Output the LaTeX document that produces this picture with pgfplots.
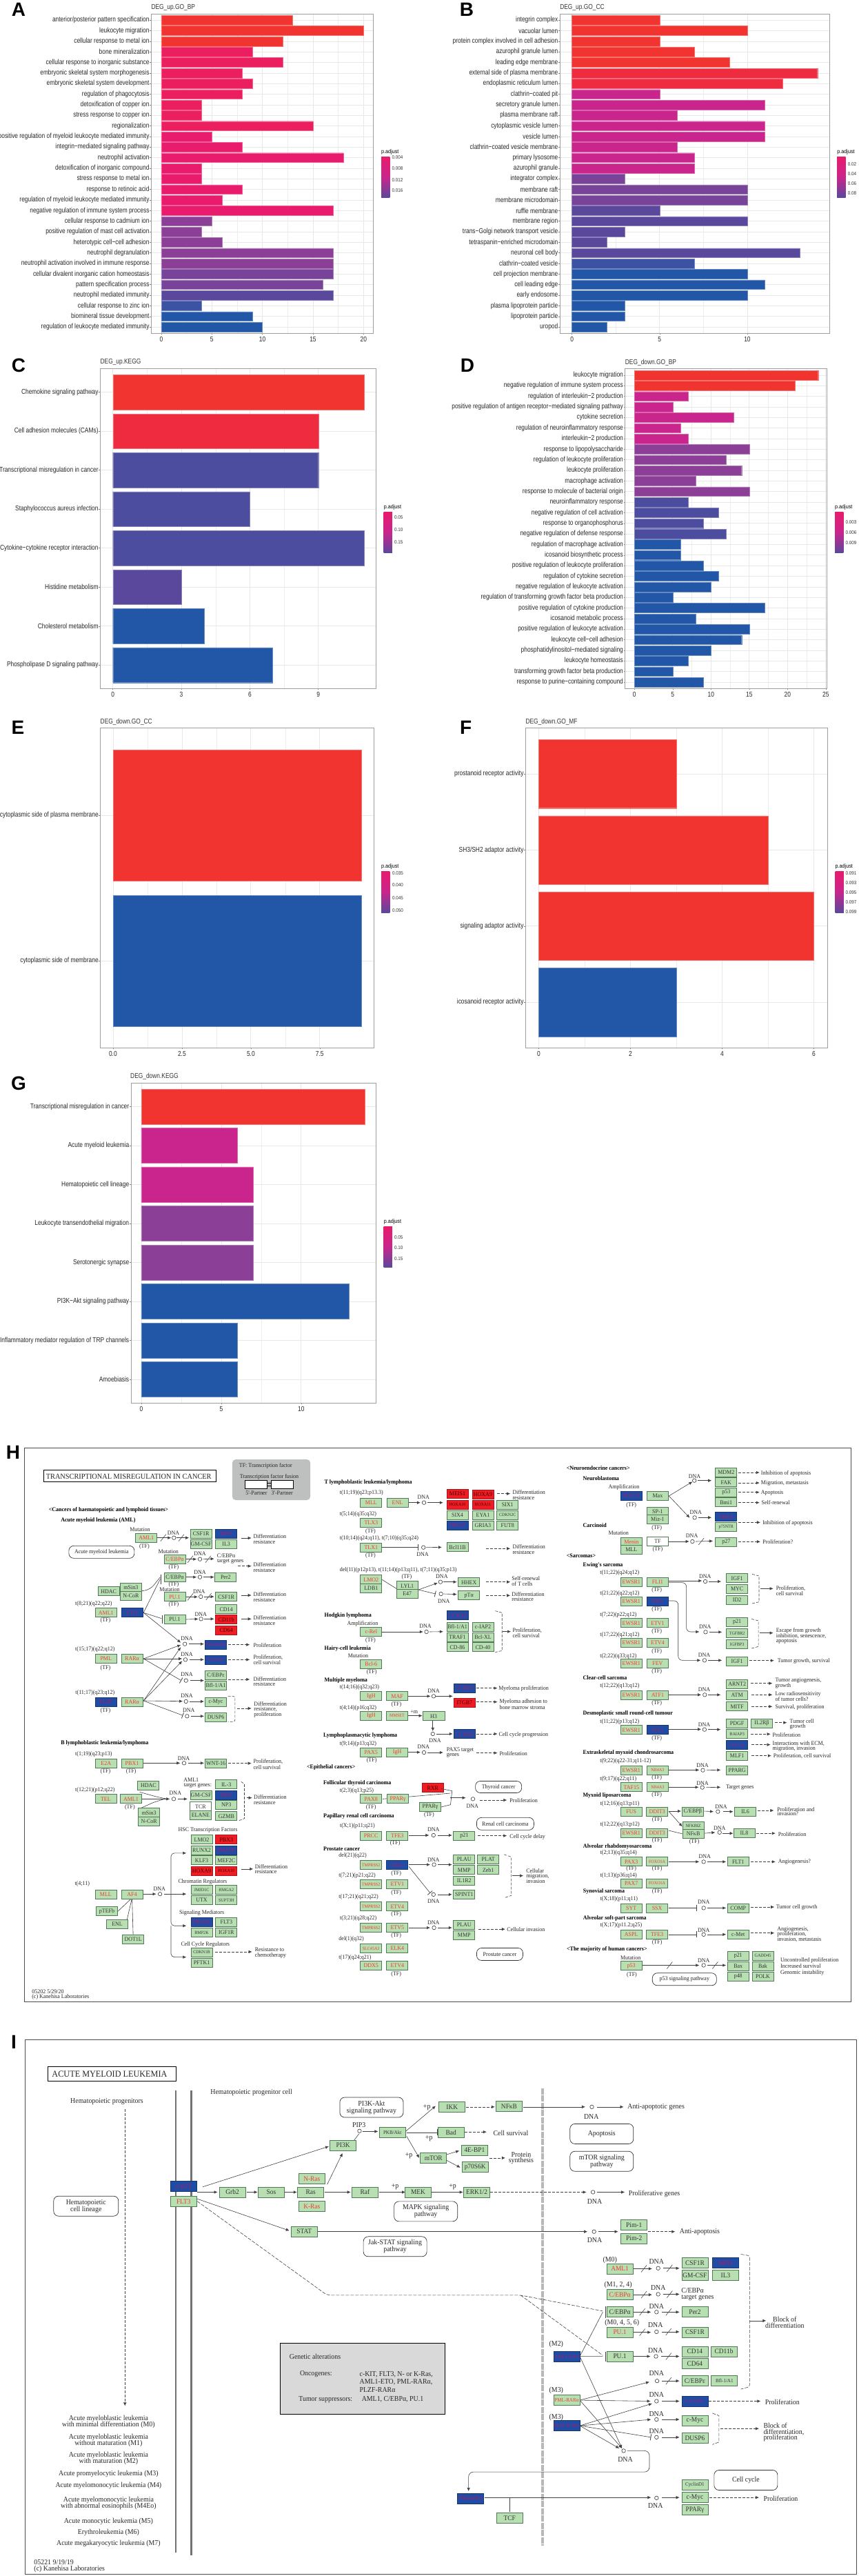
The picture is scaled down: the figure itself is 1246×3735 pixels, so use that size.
\documentclass[border=0pt]{standalone}
\usepackage{fontspec}
\usepackage{pgfplots}
\pgfplotsset{compat=1.18}
\usetikzlibrary{arrows.meta}
\setmainfont{Liberation Sans}[FakeStretch=0.815]
\newfontfamily\lgf{Liberation Sans}[FakeStretch=0.9]
\newfontfamily\ltf{Liberation Sans}
\newfontfamily\kef{Liberation Serif}[FakeStretch=0.94]

% p.adjust colours
\definecolor{cA}{HTML}{F1342F}
\definecolor{cB}{HTML}{EF2B40}
\definecolor{cC}{HTML}{EB1F60}
\definecolor{cD}{HTML}{E81B6C}
\definecolor{cE}{HTML}{C9258C}
\definecolor{cF}{HTML}{8C3F97}
\definecolor{cG}{HTML}{78449A}
\definecolor{cH}{HTML}{5A489C}
\definecolor{cI}{HTML}{4C4D9F}
\definecolor{cJ}{HTML}{3C52A2}
\definecolor{cK}{HTML}{2256A6}
\definecolor{kgreen}{HTML}{B7DFB2}
\definecolor{kline}{HTML}{4F7A55}
\definecolor{kred}{HTML}{F01C24}
\definecolor{kblue}{HTML}{1F4CA5}
\definecolor{ktext}{HTML}{EE3B30}
\definecolor{kmag}{HTML}{A81F6A}
\definecolor{kgray}{HTML}{BEC0BF}
\pgfdeclareverticalshading{padj}{100bp}{color(0bp)=(cK); color(25bp)=(cH); color(50bp)=(cE); color(75bp)=(cD); color(100bp)=(cA)}

\pgfplotsset{
  pan/.style={
    scale only axis, anchor=north west, y dir=reverse,
    axis line style={black!38, line width=0.9pt},
    tick align=outside, major tick length=2pt, minor tick length=0pt,
    tick style={black!50, line width=0.5pt},
    xtick pos=bottom, ytick pos=left,
    xmajorgrids, ymajorgrids, xminorgrids, minor x tick num=1,
    major grid style={black!9, line width=0.7pt},
    minor grid style={black!7, line width=0.4pt},
    tick label style={font=\fontsize{10.3}{12}\selectfont, black!85},
    yticklabel style={inner xsep=0.6pt},
    xticklabel style={inner ysep=3pt},
    /pgf/number format/assume math mode=true,
    ymin=0.4,
  },
  hb/.style={xbar, bar shift=0pt, bar width=0.9, fill=#1, draw=#1!70!white, line width=0.4pt, mark=none},
}
\newcommand{\ptitle}[3]{\node[anchor=west,inner sep=0pt,text=black!80,font=\fontsize{10.3}{12}\selectfont] at (#1pt,-#2pt) {#3};}
\newcommand{\pletter}[3]{\node[inner sep=0pt,font=\ltf\bfseries\fontsize{28}{30}\selectfont] at (#1pt,-#2pt) {#3};}
\newcommand{\cbar}[4]{%
  \node[anchor=west,inner sep=0pt,font=\lgf\fontsize{8}{9}\selectfont] at (#1pt,-#2pt) {p.adjust};
  \shade[shading=padj] (#1pt,-#3pt) rectangle ({#1pt+12.3pt},-#4pt);}
\newcommand{\cbl}[3]{\node[anchor=west,inner sep=0pt,text=black!80,font=\lgf\fontsize{7}{8}\selectfont] at (#1pt,-#2pt) {#3};}

% KEGG map helpers; x y are read in the scope's own units
\tikzset{
  gb/.style={draw=kline, fill=kgreen, line width=0.8pt, minimum width=31pt, minimum height=13pt, inner sep=0pt, text=black!80, font=\kef\fontsize{8.5}{9}\selectfont},
  tt/.style={inner sep=0pt, text=black!85, font=\kef\fontsize{8.5}{10}\selectfont},
  hh/.style={inner sep=0pt, anchor=west, text=black, font=\kef\bfseries\fontsize{8.5}{10}\selectfont},
  ka/.style={draw=black!75, line width=0.6pt, -{Latex[length=5pt,width=4.5pt]}},
  kd/.style={ka, dash pattern=on 4pt off 2pt},
  kl/.style={draw=black!75, line width=0.6pt},
  kt/.style={kl, -{Bar[width=9pt,line width=0.8pt]}},
  pil/.style={draw=black!80, line width=0.7pt, fill=white, rounded corners=7pt, align=center, inner sep=0pt, text=black!85, font=\kef\fontsize{8.5}{10}\selectfont},
}
\newcommand{\sm}[1]{{\fontsize{6.5}{7}\selectfont #1}}
\newcommand{\gn}[3]{\node[gb] at (#1,#2) {#3};}
\newcommand{\gm}[3]{\node[gb,text=ktext] at (#1,#2) {#3};}
\newcommand{\bu}[3]{\node[gb,fill=kblue,draw=kblue!70!black,text=kmag] at (#1,#2) {#3};}
\newcommand{\rd}[3]{\node[gb,fill=kred,draw=kred!70!black,text=black!75!red] at (#1,#2) {#3};}
\newcommand{\wb}[3]{\node[gb,fill=white] at (#1,#2) {#3};}
\newcommand{\tl}[3]{\node[tt,anchor=west] at (#1,#2) {#3};}
\newcommand{\tc}[3]{\node[tt] at (#1,#2) {#3};}
\newcommand{\hd}[3]{\node[hh] at (#1,#2) {#3};}
\newcommand{\tf}[2]{\node[tt] at (#1,#2) {(TF)};}
\newcommand{\dna}[4]{\node[circle,draw=black!80,fill=white,line width=0.6pt,minimum size=5.5pt,inner sep=0pt] at (#1,#2) {}; \node[tt] at (#3,#4) {DNA};}
\newcommand{\dres}[3]{\tl{#1}{#2}{Differentiation}\tl{#1}{#3}{resistance}}
\newcommand{\pce}[3]{\tl{#1}{#2}{Proliferation,}\tl{#1}{#3}{cell survival}}
\newcommand{\slh}[2]{\draw[kl] ([shift={(-4pt,-5pt)}]#1,#2)--([shift={(4pt,5pt)}]#1,#2);}

\begin{document}
\begin{tikzpicture}[x=1pt,y=1pt]
\path[use as bounding box] (0pt,0pt) rectangle (1246pt,-3735pt);

% A
\begin{axis}[pan, at={(219.3pt,-20pt)}, width=322.2pt, height=463.3pt,
  xmin=-1, xmax=20.97, ymax=30.6, xtick={0,5,10,15,20}, ytick={1,...,30},
  yticklabels={anterior/posterior pattern specification,leukocyte migration,cellular response to metal ion,bone mineralization,cellular response to inorganic substance,embryonic skeletal system morphogenesis,embryonic skeletal system development,regulation of phagocytosis,detoxification of copper ion,stress response to copper ion,regionalization,positive regulation of myeloid leukocyte mediated immunity,integrin−mediated signaling pathway,neutrophil activation,detoxification of inorganic compound,stress response to metal ion,response to retinoic acid,regulation of myeloid leukocyte mediated immunity,negative regulation of immune system process,cellular response to cadmium ion,positive regulation of mast cell activation,heterotypic cell−cell adhesion,neutrophil degranulation,neutrophil activation involved in immune response,cellular divalent inorganic cation homeostasis,pattern specification process,neutrophil mediated immunity,cellular response to zinc ion,biomineral tissue development,regulation of leukocyte mediated immunity}]
\addplot[hb=cA] coordinates {(13,1)(20,2)(12,3)};
\addplot[hb=cC] coordinates {(9,4)(12,5)(8,6)(9,7)(8,8)(4,9)(4,10)(15,11)};
\addplot[hb=cD] coordinates {(5,12)(8,13)(18,14)(4,15)(4,16)(8,17)(6,18)(17,19)};
\addplot[hb=cF] coordinates {(5,20)(4,21)(6,22)(17,23)(17,24)};
\addplot[hb=cG] coordinates {(17,25)(16,26)};
\addplot[hb=cH] coordinates {(17,27)};
\addplot[hb=cJ] coordinates {(4,28)};
\addplot[hb=cK] coordinates {(9,29)(10,30)};
\end{axis}
\ptitle{219.3}{10.7}{DEG\_up.GO\_BP}
\pletter{27}{14}{A}
\cbar{553}{220.7}{227.7}{286.7}
\cbl{568.5}{227.7}{0.004}\cbl{568.5}{244.3}{0.008}\cbl{568.5}{260.7}{0.012}\cbl{568.5}{276.3}{0.016}

% B
\begin{axis}[pan, at={(812.1pt,-20pt)}, width=390.9pt, height=463.3pt,
  xmin=-0.688, xmax=14.68, ymax=30.6, xtick={0,5,10}, ytick={1,...,30},
  yticklabels={integrin complex,vacuolar lumen,protein complex involved in cell adhesion,azurophil granule lumen,leading edge membrane,external side of plasma membrane,endoplasmic reticulum lumen,clathrin−coated pit,secretory granule lumen,plasma membrane raft,cytoplasmic vesicle lumen,vesicle lumen,clathrin−coated vesicle membrane,primary lysosome,azurophil granule,integrator complex,membrane raft,membrane microdomain,ruffle membrane,membrane region,trans−Golgi network transport vesicle,tetraspanin−enriched microdomain,neuronal cell body,clathrin−coated vesicle,cell projection membrane,cell leading edge,early endosome,plasma lipoprotein particle,lipoprotein particle,uropod}]
\addplot[hb=cA] coordinates {(5,1)(10,2)(5,3)(7,4)(9,5)};
\addplot[hb=cB] coordinates {(14,6)(12,7)};
\addplot[hb=cE] coordinates {(5,8)(11,9)(6,10)(11,11)(11,12)(6,13)(7,14)(7,15)};
\addplot[hb=cG] coordinates {(3,16)(10,17)(10,18)};
\addplot[hb=cH] coordinates {(5,19)(10,20)(3,21)(2,22)(13,23)};
\addplot[hb=cJ] coordinates {(7,24)};
\addplot[hb=cK] coordinates {(10,25)(11,26)(10,27)(3,28)(3,29)(2,30)};
\end{axis}
\ptitle{812.1}{10.7}{DEG\_up.GO\_CC}
\pletter{677}{14}{B}
\cbar{1214.2}{220.7}{227.7}{286.7}
\cbl{1229.7}{238.3}{0.02}\cbl{1229.7}{252.3}{0.04}\cbl{1229.7}{266.3}{0.06}\cbl{1229.7}{280}{0.08}

% C
\begin{axis}[pan, at={(145.4pt,-534.7pt)}, width=400.1pt, height=463.5pt,
  xmin=-0.553, xmax=11.53, ymax=8.6, xtick={0,3,6,9}, ytick={1,...,8},
  yticklabels={Chemokine signaling pathway,Cell adhesion molecules (CAMs),Transcriptional misregulation in cancer,Staphylococcus aureus infection,Cytokine−cytokine receptor interaction,Histidine metabolism,Cholesterol metabolism,Phospholipase D signaling pathway}]
\addplot[hb=cA] coordinates {(11,1)};
\addplot[hb=cB] coordinates {(9,2)};
\addplot[hb=cI] coordinates {(9,3)(6,4)(11,5)};
\addplot[hb=cH] coordinates {(3,6)};
\addplot[hb=cK] coordinates {(4,7)(7,8)};
\end{axis}
\ptitle{145.4}{525.3}{DEG\_up.KEGG}
\pletter{27}{530}{C}
\cbar{556.6}{735.3}{742}{801.7}
\cbl{572}{749.7}{0.05}\cbl{572}{767.7}{0.10}\cbl{572}{785.7}{0.15}

% D
\begin{axis}[pan, at={(906.7pt,-534.7pt)}, width=292.8pt, height=463.5pt,
  xmin=-1.22, xmax=25.15, ymax=30.6, xtick={0,5,10,15,20,25}, ytick={1,...,30},
  yticklabels={leukocyte migration,negative regulation of immune system process,regulation of interleukin−2 production,positive regulation of antigen receptor−mediated signaling pathway,cytokine secretion,regulation of neuroinflammatory response,interleukin−2 production,response to lipopolysaccharide,regulation of leukocyte proliferation,leukocyte proliferation,macrophage activation,response to molecule of bacterial origin,neuroinflammatory response,negative regulation of cell activation,response to organophosphorus,negative regulation of defense response,regulation of macrophage activation,icosanoid biosynthetic process,positive regulation of leukocyte proliferation,regulation of cytokine secretion,negative regulation of leukocyte activation,regulation of transforming growth factor beta production,positive regulation of cytokine production,icosanoid metabolic process,positive regulation of leukocyte activation,leukocyte cell−cell adhesion,phosphatidylinositol−mediated signaling,leukocyte homeostasis,transforming growth factor beta production,response to purine−containing compound}]
\addplot[hb=cA] coordinates {(24,1)(21,2)};
\addplot[hb=cE] coordinates {(7,3)(5,4)(13,5)(6,6)(7,7)};
\addplot[hb=cF] coordinates {(15,8)(12,9)(14,10)(8,11)(15,12)};
\addplot[hb=cI] coordinates {(7,13)(11,14)(9,15)(12,16)};
\addplot[hb=cK] coordinates {(6,17)(6,18)(9,19)(11,20)(10,21)(5,22)(17,23)(8,24)(15,25)(14,26)(10,27)(7,28)(5,29)(9,30)};
\end{axis}
\ptitle{906.7}{525.3}{DEG\_down.GO\_BP}
\pletter{678}{530}{D}
\cbar{1211}{735.3}{742}{801.7}
\cbl{1226.5}{757.3}{0.003}\cbl{1226.5}{772.3}{0.006}\cbl{1226.5}{787.3}{0.009}

% E
\begin{axis}[pan, at={(145.5pt,-1055.8pt)}, width=396.5pt, height=463.6pt,
  xmin=-0.46, xmax=9.455, ymax=2.6, xtick={0,2.5,5,7.5}, xticklabels={0.0,2.5,5.0,7.5}, ytick={1,2},
  yticklabels={cytoplasmic side of plasma membrane,cytoplasmic side of membrane}]
\addplot[hb=cA] coordinates {(9,1)};
\addplot[hb=cK] coordinates {(9,2)};
\end{axis}
\ptitle{145.5}{1046.5}{DEG\_down.GO\_CC}
\pletter{26}{1055}{E}
\cbar{553}{1256}{1263}{1323}
\cbl{569}{1266}{0.035}\cbl{569}{1283.5}{0.040}\cbl{569}{1301.6}{0.045}\cbl{569}{1319.7}{0.050}

% F
\begin{axis}[pan, at={(762.3pt,-1055.8pt)}, width=438pt, height=463.6pt,
  xmin=-0.287, xmax=6.3, ymax=4.6, xtick={0,2,4,6}, ytick={1,...,4},
  yticklabels={prostanoid receptor activity,SH3/SH2 adaptor activity,signaling adaptor activity,icosanoid receptor activity}]
\addplot[hb=cA] coordinates {(3,1)(5,2)(6,3)};
\addplot[hb=cK] coordinates {(3,4)};
\end{axis}
\ptitle{762.3}{1046.5}{DEG\_down.GO\_MF}
\pletter{675.7}{1055}{F}
\cbar{1211.5}{1256}{1263}{1323}
\cbl{1226.5}{1266}{0.091}\cbl{1226.5}{1280}{0.093}\cbl{1226.5}{1294.4}{0.095}\cbl{1226.5}{1308}{0.097}\cbl{1226.5}{1322}{0.099}

% G
\begin{axis}[pan, at={(190pt,-1570.4pt)}, width=355.5pt, height=463.6pt,
  xmin=-0.647, xmax=14.69, ymax=8.6, xtick={0,5,10}, ytick={1,...,8},
  yticklabels={Transcriptional misregulation in cancer,Acute myeloid leukemia,Hematopoietic cell lineage,Leukocyte transendothelial migration,Serotonergic synapse,PI3K−Akt signaling pathway,Inflammatory mediator regulation of TRP channels,Amoebiasis}]
\addplot[hb=cA] coordinates {(14,1)};
\addplot[hb=cE] coordinates {(6,2)(7,3)};
\addplot[hb=cF] coordinates {(7,4)(7,5)};
\addplot[hb=cK] coordinates {(13,6)(6,7)(6,8)};
\end{axis}
\ptitle{189}{1561}{DEG\_down.KEGG}
\pletter{27}{1571}{G}
\cbar{556.6}{1771}{1778.3}{1837.3}
\cbl{572}{1793.7}{0.05}\cbl{572}{1809.3}{0.10}\cbl{572}{1824.7}{0.15}

% H frame
\pletter{19}{2106}{H}
\draw[black!70,line width=0.9pt] (35.8pt,-2099.3pt) rectangle (1234.5pt,-2902pt);

% H left and middle columns
\begin{scope}[x=0.3973pt,y=-0.3333pt,shift={(0pt,-2130pt)}]
\draw[black,line width=1pt] (160,3) rectangle (790,55);
\node[tt,font=\kef\fontsize{11}{12}\selectfont] at (470,32) {TRANSCRIPTIONAL MISREGULATION IN CANCER};
\fill[kgray,rounded corners=5pt] (848,-42) rectangle (1133,135);
\tc{970}{-13}{TF: Transcription factor}\tc{983}{33}{Transcription factor fusion}
\draw[black,line width=.7pt,fill=white] (895,50) rectangle (975,85) (990,50) rectangle (1070,85);
\draw[black,line width=.7pt] (975,62)--(990,62) (975,73)--(990,73);
\tc{936}{103}{5'-Partner}\tc{1030}{103}{3'-Partner}

\hd{178}{178}{<Cancers of haematopoietic and lymphoid tissues>}
\hd{222}{222}{Acute myeloid leukemia (AML)}
\tc{511}{263}{Mutation}
\draw[ka] (574,299)--(625,299); \draw[ka] (645,299)--(690,299);
\slh{596}{299}\slh{662}{299}
\draw[ka] (880,300)--(918,300);
\node[pil,minimum width=95pt,minimum height=18pt] at (371,361) {Acute myeloid leukemia};
\draw[ka] (680,392)--(718,392); \draw[ka] (742,392)--(782,390); \draw[kd] (868,422)--(918,422);
\slh{695}{392}\slh{760}{392}
\draw[ka] (680,470)--(718,470); \draw[ka] (742,470)--(782,470);
\draw[kl,rounded corners=8pt] (518,530)--(548,525)--(585,470);
\draw[black!75,line width=.8pt] (587,458)--(587,500);
\draw[ka] (680,556)--(722,556); \draw[ka] (744,555)--(782,555); \draw[ka] (880,549)--(918,549);
\slh{695}{556}\slh{762}{555}
\draw[kl] (524,625)--(585,478); \draw[kl] (524,625)--(590,650);
\draw[black!75,line width=.8pt] (593,635)--(593,672);
\draw[ka] (680,654)--(724,652); \draw[ka] (744,652)--(782,652); \draw[ka] (880,652)--(918,652);
\draw[ka] (524,625)--(660,755);
\draw[ka] (690,761)--(745,761); \draw[kd] (833,764)--(912,764);
\draw[ka] (692,829)--(745,829); \draw[kd] (833,829)--(912,829);
\draw[ka] (694,920)--(745,920); \draw[kd] (833,915)--(912,915);
\draw[ka] (524,825)--(660,765); \draw[ka] (524,825)--(665,825); \draw[kt] (524,825)--(662,920);
\draw[ka] (524,1008)--(660,775); \draw[ka] (524,1008)--(665,835);
\draw[ka] (524,1008)--(667,1010); \draw[kt] (524,1008)--(668,1072);
\draw[ka] (693,1011)--(745,1011); \draw[ka] (697,1075)--(745,1075);
\draw[kl,dash pattern=on 4pt off 2pt,rounded corners=3pt] (832,988)--(858,988)--(858,1100)--(832,1100);
\draw[kd] (865,1041)--(918,1041);
\draw[ka] (524,1279)--(658,1279); \draw[ka] (686,1279)--(745,1279); \draw[kd] (833,1280)--(918,1280);

\gm{534}{299}{AML1}\tf{527}{336}\dna{635}{299}{633}{277}
\gn{734}{281}{CSF1R}\bu{826}{281}{MPO}\gn{734}{326}{GM-CSF}\gn{826}{326}{IL3}
\dres{925}{294}{317}
\tc{615}{358}{Mutation}\gm{638}{392}{C/EBPα}\tf{634}{426}\dna{730}{392}{730}{368}
\tc{826}{378}{C/EBPα}\tc{841}{403}{target genes}\dres{925}{416}{439}
\gn{638}{470}{C/EBPα}\tf{634}{503}\dna{730}{470}{730}{448}\gn{824}{470}{Per2}
\gn{397}{532}{HDAC}\gn{478}{515}{mSin3}\gn{478}{551}{N-CoR}
\tc{619}{523}{Mutation}\gm{638}{556}{PU.1}\tf{634}{590}\dna{733}{555}{727}{533}\gn{826}{556}{CSF1R}
\dres{925}{546}{569}
\tc{342}{587}{t(8;21)(q22;q22)}\gm{387}{625}{AML1}\bu{482}{625}{ETO}\tf{385}{659}
\gn{638}{654}{PU.1}\dna{734}{652}{733}{632}\gn{826}{610}{CD14}\rd{826}{655}{CD11b}\rd{826}{702}{CD64}
\dres{925}{647}{670}
\dna{675}{761}{682}{737}\bu{788}{765}{\sm{Plakoglobin}}\tl{925}{767}{Proliferation}
\dna{677}{829}{682}{807}\bu{788}{830}{\sm{CyclinA1}}\pce{925}{820}{843}
\dna{679}{920}{682}{892}\gn{788}{897}{C/EBPε}\gn{788}{941}{Bfl-1/A1}\dres{925}{913}{936}
\tc{347}{785}{t(15;17)(q22;q12)}\gm{387}{825}{PML}\gm{482}{825}{RARα}\tf{385}{864}
\tc{347}{973}{t(11;17)(q23;q12)}\bu{387}{1013}{PLZF}\gm{482}{1013}{RARα}\tf{385}{1050}
\dna{679}{1011}{682}{987}\gn{788}{1014}{c-Myc}\dna{683}{1075}{689}{1050}\gn{788}{1079}{DUSP6}
\tl{927}{1022}{Differentiation}\tl{927}{1045}{resistance,}\tl{927}{1068}{proliferation}
\hd{222}{1191}{B lymphoblastic leukemia/lymphoma}
\tc{342}{1241}{t(1;19)(q23;p13)}\gm{387}{1281}{E2A}\gm{482}{1281}{PBX1}\tf{385}{1316}\tf{479}{1316}
\dna{672}{1279}{671}{1259}\gn{788}{1281}{WNT-16}\pce{925}{1274}{1297}
\tc{347}{1396}{t(12;21)(p12;q22)}\gn{542}{1376}{HDAC}\tc{698}{1353}{AML1}\tc{722}{1378}{target genes:}
\gn{826}{1372}{IL-3}\gn{734}{1419}{GM-CSF}\bu{826}{1419}{MPO}

% middle column
\hd{1184}{57}{T lymphoblastic leukemia/lymphoma}
\tl{1240}{104}{t(11;19)(q23;p13.3)}
\draw[ka] (1491,146)--(1535,146); \draw[ka] (1560,146)--(1618,146);
\gm{1355}{146}{MLL}\gm{1451}{146}{ENL}\dna{1548}{146}{1546}{122}
\tl{1240}{195}{t(5;14)(q35;q32)}\gm{1355}{233}{TLX3}\tf{1353}{270}
\tl{1240}{301}{t(10;14)(q24;q11), t(7;10)(q35;q24)}
\draw[kt] (1395,341)--(1527,341); \draw[ka] (1556,341)--(1613,340);
\gm{1355}{341}{TLX1}\tf{1353}{375}\dna{1546}{341}{1543}{372}
\tl{1240}{438}{del(11)(p12p13), t(11;14)(p13;q11), t(7;11)(q35;p13)}
\draw[kl] (1395,481)--(1447,520); \draw[ka] (1528,525)--(1598,495); \draw[kt] (1528,525)--(1590,543);
\draw[ka] (1618,491)--(1668,491); \draw[ka] (1620,543)--(1668,545);
\gm{1355}{481}{LMO2}\gn{1355}{518}{LDB1}\gn{1487}{508}{LYL1}\gn{1487}{543}{E47}\tc{1485}{470}{(TF)}
\hd{1184}{638}{Hodgkin lymphoma}\tl{1267}{672}{Amplification}
\draw[ka] (1395,708)--(1545,708); \draw[ka] (1568,708)--(1618,707);
\gm{1355}{708}{c-Rel}\tf{1353}{744}\dna{1557}{708}{1553}{682}
\hd{1184}{780}{Hairy-cell leukemia}\tl{1270}{812}{Mutation}\gm{1355}{848}{Bcl-6}\tf{1357}{882}
\hd{1184}{919}{Multiple myeloma}\tl{1240}{950}{t(14;16)(q32;q23)}
\draw[ka] (1491,988)--(1572,988); \draw[ka] (1592,988)--(1653,988);
\gm{1355}{988}{IgH}\gm{1450}{988}{MAF}\tf{1447}{1023}
\tl{1240}{1040}{t(4;14)(p16;q32)}
\draw[ka] (1491,1073)--(1542,1073);
\tc{1512}{1056}{+m}
\gm{1355}{1073}{IgH}\gm{1450}{1073}{\sm{MMSET}}
\hd{1180}{1160}{Lymphoplasmacytic lymphoma}\tl{1240}{1194}{t(9;14)(p13;q32)}
\draw[ka] (1491,1232)--(1535,1232); \draw[ka] (1560,1233)--(1618,1233);
\gm{1355}{1232}{PAX5}\gm{1450}{1232}{IgH}\tf{1357}{1268}\dna{1548}{1233}{1546}{1208}
\hd{1120}{1297}{<Epithelial cancers>}
\hd{1180}{1365}{Follicular thyroid carcinoma}\tl{1240}{1398}{t(2;3)(q13;p25)}
\end{scope}

% H right part
\begin{scope}[x=0.3973pt,y=-0.3333pt,shift={(623pt,-2130pt)}]
\rd{102}{108}{MEIS1}\rd{195}{110}{HOXA9}\rd{102}{155}{\sm{HOXA10}}\rd{195}{155}{\sm{HOXA11}}\gn{285}{155}{SIX1}
\gn{102}{200}{SIX4}\gn{195}{200}{EYA1}\gn{285}{200}{\sm{CDKN2C}}\bu{102}{245}{HPGD}\gn{195}{245}{GRIA3}\gn{285}{245}{FUT8}
\draw[kd] (247,107)--(295,107); \dres{303}{100}{124}
\gn{102}{340}{Bcl11B}\draw[kd] (207,346)--(295,346); \dres{303}{337}{361}
\dna{40}{491}{45}{467}\gn{144}{493}{HHEX}\draw[kd] (207,491)--(295,491);
\tl{300}{477}{Self-renewal}\tl{300}{500}{of T cells}
\dna{42}{543}{52}{575}\gn{144}{550}{pTα}\draw[kd] (207,550)--(295,550); \dres{300}{544}{567}
\bu{102}{637}{CCND2}\gn{102}{686}{Bfl-1/A1}\gn{195}{686}{c-IAP2}\gn{102}{732}{TRAF1}\gn{195}{732}{Bcl-XL}\gn{102}{775}{CD-86}\gn{195}{775}{CD-40}
\draw[kl,dash pattern=on 4pt off 2pt] (240,617)--(265,625)--(265,790)--(240,797);
\draw[ka] (268,707)--(297,707); \pce{303}{702}{725}
\dna{15}{988}{15}{965}\bu{128}{953}{CCND1}\rd{128}{1016}{ITGB7}
\draw[kd] (172,953)--(248,953); \tl{252}{955}{Myeloma proliferation}
\draw[kd] (172,1013)--(248,1013); \tl{255}{1012}{Myeloma adhesion to}\tl{255}{1036}{bone marrow stroma}
\node[gb,minimum width=32pt] at (15,1075) {H3};
\draw[ka] (12,1095)--(12,1140);
\dna{12}{1152}{20}{1180}\draw[ka] (25,1152)--(85,1152);\bu{128}{1153}{CCND2}
\draw[kd] (172,1152)--(248,1152); \tl{253}{1155}{Cell cycle progression}
\tl{62}{1222}{PAX5 target}\tl{62}{1246}{genes}\draw[kd] (172,1235)--(248,1235); \tl{255}{1239}{Proliferation}
\rd{12}{1387}{RXR}
\node[pil,minimum width=67pt,minimum height=17pt] at (252,1383) {Thyroid cancer};

\hd{500}{-5}{<Neuroendocrine cancers>}\hd{560}{40}{Neuroblastoma}\tl{653}{78}{Amplification}
\draw[ka] (874,117)--(960,55); \draw[ka] (874,117)--(950,212);
\draw[ka] (980,50)--(1030,50); \draw[ka] (982,211)--(1030,211);
\bu{737}{117}{MYCN}\gn{833}{117}{Max}\tf{737}{156}\dna{967}{50}{968}{32}\dna{968}{211}{972}{188}
\gn{1083}{15}{MDM2}\gn{1083}{58}{FAK}\gn{1083}{101}{p53}\gn{1083}{145}{Bmi1}
\draw[kd] (1127,15)--(1205,15); \tl{1210}{19}{Inhibition of apoptosis}
\draw[kd] (1127,60)--(1205,60); \tl{1210}{63}{Migration, metastasis}
\draw[kd] (1127,101)--(1205,101); \tl{1210}{104}{Apoptosis}
\draw[kd] (1127,146)--(1205,146); \tl{1212}{147}{Self-renewal}
\bu{1083}{208}{TRKA}\gn{1083}{252}{\sm{p75NTR}}\draw[kd] (1127,232)--(1208,232); \tl{1216}{234}{Inhibition of apoptosis}
\gn{833}{185}{SP-1}\gn{833}{218}{Miz-1}\tf{830}{255}
\hd{560}{244}{Carcinoid}\tl{653}{277}{Mutation}
\draw[ka] (874,315)--(948,315); \draw[ka] (972,315)--(1035,313);\slh{992}{315}
\gm{737}{317}{Menin}\gn{737}{351}{MLL}\wb{833}{315}{TF}\tf{833}{350}\dna{960}{315}{958}{291}
\gn{1083}{317}{p27}\draw[kd] (1127,316)--(1208,316); \tl{1216}{316}{Proliferation?}
\hd{500}{377}{<Sarcomas>}\hd{560}{418}{Ewing's sarcoma}
\tl{622}{451}{t(11;22)(q24;q12)}
\draw[ka] (874,486)--(995,486); \draw[ka] (1020,489)--(1065,489);
\draw[ka,rounded corners=6pt] (874,494)--(938,494)--(938,708)--(985,708);
\draw[ka,rounded corners=6pt] (874,573)--(908,573)--(908,832)--(990,832);
\draw[ka] (1022,709)--(1068,709); \draw[ka] (1018,832)--(1068,832);
\gm{737}{491}{EWSR1}\gm{833}{491}{FLI1}\tf{830}{525}\dna{1007}{489}{1006}{467}
\gn{1123}{475}{IGF1}\gn{1123}{521}{MYC}\gn{1123}{570}{ID2}
\draw[kl,dash pattern=on 4pt off 2pt] (1178,457)--(1203,465)--(1203,578)--(1178,585);
\draw[ka] (1207,520)--(1255,520); \pce{1265}{519}{542}
\tl{622}{540}{t(21;22)(q22;q12)}\gm{737}{575}{EWSR1}\bu{833}{575}{ERG}\tf{830}{610}
\tl{622}{633}{t(7;22)(p22;q12)}\gm{737}{670}{EWSR1}\gm{833}{670}{ETV1}\tf{830}{707}
\dna{1008}{709}{1006}{686}\gn{1123}{665}{p21}\gn{1123}{714}{\sm{TGFBR2}}\gn{1123}{762}{\sm{IGFBP3}}
\draw[kl,dash pattern=on 4pt off 2pt] (1176,652)--(1201,660)--(1201,772)--(1176,780);
\draw[ka] (1205,713)--(1255,713);
\tl{1265}{703}{Escape from growth}\tl{1265}{726}{inhibition, senescence,}\tl{1265}{749}{apoptosis}
\tl{622}{721}{t(17;22)(q21;q12)}\gm{737}{755}{EWSR1}\gm{833}{755}{ETV4}\tf{830}{792}
\tl{622}{813}{t(2;22)(q33;q12)}\gm{737}{845}{EWSR1}\gm{833}{845}{FEV}\tf{830}{880}
\dna{1004}{832}{1003}{809}\gn{1123}{836}{IGF1}\draw[kd] (1167,833)--(1258,833); \tl{1270}{834}{Tumor growth, survival}
\hd{560}{909}{Clear-cell sarcoma}\tl{622}{944}{t(12;22)(q13;q12)}
\draw[ka] (874,982)--(992,982); \draw[ka] (1018,982)--(1063,982);
\gm{737}{984}{EWSR1}\gm{833}{984}{ATF1}\tf{830}{1018}\dna{1005}{982}{1003}{959}
\gn{1123}{936}{ARNT2}\gn{1123}{984}{ATM}\gn{1123}{1033}{MITF}
\draw[kd] (1172,932)--(1252,932); \tl{1262}{921}{Tumor angiogenesis,}\tl{1262}{944}{growth}
\draw[kd] (1175,982)--(1252,982); \tl{1262}{979}{Low radiosensitivity}\tl{1262}{1002}{of tumor cells?}
\draw[kd] (1175,1033)--(1252,1033); \tl{1262}{1036}{Survival, proliferation}
\hd{560}{1064}{Desmoplastic small round-cell tumour}\tl{622}{1098}{t(11;22)(p13;q12)}
\draw[ka] (874,1132)--(992,1132); \draw[ka] (1018,1133)--(1063,1133);
\gm{737}{1135}{EWSR1}\bu{833}{1135}{WT1}\tf{830}{1170}\dna{1004}{1133}{1003}{1112}
\gn{1123}{1106}{PDGF}\gn{1213}{1106}{IL2Rβ}\gn{1123}{1153}{\sm{BAIAP3}}\bu{1123}{1200}{\sm{TALLA1}}\gn{1123}{1248}{MLF1}
\draw[kd] (1260,1103)--(1305,1103); \tl{1315}{1096}{Tumor cell}\tl{1315}{1119}{growth}
\draw[kd] (1172,1153)--(1245,1153); \tl{1252}{1158}{Proliferation}
\draw[kd] (1175,1199)--(1245,1199); \tl{1252}{1194}{Interactions with ECM,}\tl{1252}{1217}{migration, invasion}
\draw[kd] (1175,1247)--(1248,1247); \tl{1255}{1250}{Proliferation, cell survival}
\hd{560}{1233}{Extraskeletal myxoid chondrosarcoma}\tl{622}{1270}{t(9;22)(q22-31;q11-12)}
\draw[ka] (874,1309)--(985,1309); \draw[ka] (1012,1310)--(1063,1309);
\gm{737}{1310}{EWSR1}\gm{833}{1310}{\sm{NR4A3}}\tf{830}{1342}\dna{998}{1310}{997}{1290}\gn{1123}{1310}{PPARG}
\tl{622}{1348}{t(9;17)(q22;q11)}
\draw[ka] (874,1384)--(983,1384); \draw[ka] (1010,1385)--(1063,1384);
\gm{737}{1384}{TAF15}\gm{833}{1384}{\sm{NR4A3}}\tf{830}{1417}\dna{996}{1385}{997}{1366}\tl{1082}{1385}{Target genes}
\hd{560}{1420}{Myxoid liposarcoma}
\end{scope}

% H strip around y 2590 to 2660
\begin{scope}[x=0.7949pt,y=-0.3333pt,shift={(0pt,-2590pt)}]
\draw[kl,rounded corners=4pt] (252,100)--(280,70)--(300,55); \draw[kl,rounded corners=4pt] (255,25)--(285,45)--(305,55);
\draw[ka] (258,55)--(310,55); \draw[ka] (324,55)--(342,55);
\gm{193}{55}{TEL}\gm{239}{55}{AML1}\tf{237}{90}\dna{317}{55}{320}{30}
\wb{366}{88}{TCR}\gn{413}{80}{NP3}\gn{366}{126}{ELANE}\gn{413}{130}{GZMB}
\gn{272}{115}{mSin3}\gn{272}{152}{N-CoR}
\draw[kl,dash pattern=on 4pt off 2pt] (440,-20)--(446,-10)--(446,140)--(435,150);
\draw[ka] (450,50)--(460,50); \dres{463}{47}{72}
\draw[kl] (698,55)--(822,30); \draw[kl] (805,10)--(825,20)--(822,80)--(805,90);
\draw[ka] (822,50)--(850,50); \draw[kd] (875,60)--(925,60);
\gm{677}{55}{PAX8}\gm{726}{55}{PPARγ}\tf{677}{90}\gn{785}{90}{PPARγ}\tf{783}{125}
\dna{863}{55}{862}{85}\tl{930}{62}{Proliferation}
\hd{590}{130}{Papillary renal cell carcinoma}\tl{620}{172}{t(X;1)(p11;q21)}
\node[pil,minimum width=83pt,minimum height=18pt] at (922,163) {Renal cell carcinoma};
\tl{1095}{75}{t(12;16)(q13;p11)}
\draw[ka] (1220,108)--(1243,108); \draw[ka] (1285,108)--(1302,110); \draw[ka] (1320,110)--(1338,110); \draw[kd] (1382,105)--(1412,105);
\draw[ka] (1220,108)--(1245,175);
\gm{1152}{110}{FUS}\gm{1199}{110}{DDIT3}\tf{1199}{145}\gn{1264}{110}{C/EBPβ}\dna{1310}{110}{1316}{88}\gn{1360}{110}{IL6}
\tl{1418}{100}{Proliferation and}\tl{1418}{120}{invasion?}
\tl{1095}{165}{t(12;22)(q13;p12)}
\end{scope}

% H bottom
\begin{scope}[x=0.7949pt,y=-0.6983pt,shift={(0pt,-2640pt)}]
\tl{325}{19}{HSC Transcription Factors}
\gn{368}{39}{LMO2}\rd{413}{39}{PBX3}\gn{368}{61}{RUNX2}\bu{413}{61}{SMAD1}\gn{368}{82}{KLF3}\gn{413}{82}{MEF2C}\rd{368}{104}{HOXA9}\rd{413}{104}{\sm{HOXA10}}
\draw[ka] (440,100)--(462,100); \dres{465}{95}{106}
\tl{325}{126}{Chromatin Regulators}
\gn{368}{143}{\sm{JMJD1C}}\gn{413}{143}{\sm{HMGA2}}\gn{368}{165}{UTX}\gn{413}{165}{\sm{SUPT3H}}
\tl{327}{191}{Signaling Mediators}
\bu{368}{210}{PROM1}\gn{413}{210}{FLT3}\gn{368}{232}{\sm{BMP2K}}\gn{413}{232}{IGF1R}
\tl{330}{257}{Cell Cycle Regulators}
\gn{368}{273}{\sm{CDKN1B}}\gn{368}{295}{PFTK1}
\draw[kd] (393,272)--(460,272); \tl{465}{268}{Resistance to}\tl{465}{280}{chemotherapy}
\tc{150}{131}{t(4;11)}
\draw[ka] (262,152)--(285,152);
\draw[ka,rounded corners=5pt] (300,152)--(340,152);
\draw[ka,rounded corners=5pt] (312,152)--(312,67)--(340,67);
\draw[ka,rounded corners=5pt] (312,152)--(312,218)--(340,218);
\draw[ka,rounded corners=5pt] (312,218)--(312,283)--(340,283);
\draw[kl] (241,160)--(215,188) (241,160)--(230,214) (241,160)--(243,240);
\gm{193}{153}{MLL}\gm{241}{153}{AF4}\dna{292}{152}{291}{141}
\gn{195}{188}{pTEFb}\gn{214}{214}{ENL}\gn{243}{246}{DOT1L}
\tl{58}{354}{05202 5/29/20}\tl{58}{366}{(c) Kanehisa Laboratories}

\draw[ka] (746,30)--(783,30); \draw[ka] (799,30)--(825,30); \draw[kd] (872,31)--(925,31);
\gm{677}{31}{PRCC}\gm{725}{31}{TFE3}\tf{721}{47}\dna{791}{30}{791}{18}\gn{847}{31}{p21}\tl{930}{33}{Cell cycle delay}
\hd{590}{58}{Prostate cancer}\tl{618}{72}{del(21)(q22)}
\draw[ka] (746,91)--(785,91); \draw[ka] (799,91)--(825,91); \draw[kt] (746,95)--(785,150);
\draw[ka] (799,153)--(825,153);
\gm{677}{92}{\sm{TMPRSS2}}\bu{725}{92}{ERG}\tf{723}{109}\dna{792}{91}{791}{81}
\gn{847}{80}{PLAU}\gn{891}{80}{PLAT}\gn{847}{102}{MMP}\gn{891}{102}{Zeb1}\gn{847}{124}{IL1R2}\gn{847}{153}{SPINT1}\dna{791}{153}{791}{167}
\draw[kl,dash pattern=on 4pt off 2pt] (920,70)--(933,75)--(933,155)--(920,160);
\draw[ka] (935,114)--(955,114); \tl{960}{104}{Cellular}\tl{960}{115}{migration,}\tl{960}{126}{invasion}
\tl{618}{114}{t(7;21)(p21;q22)}\gm{677}{132}{\sm{TMPRSS2}}\gm{725}{132}{ETV1}\tf{723}{149}
\tl{618}{158}{t(17;21)(q21;q22)}\gm{677}{178}{\sm{TMPRSS2}}\gm{725}{178}{ETV4}\tf{723}{194}
\tl{620}{203}{t(3;21)(q28;q22)}
\draw[ka] (746,222)--(785,222); \draw[ka] (799,222)--(825,222); \draw[kd] (873,225)--(922,225);
\gm{677}{222}{\sm{TMPRSS2}}\gm{725}{222}{ETV5}\tf{723}{238}\dna{792}{222}{791}{211}\gn{847}{216}{PLAU}\gn{847}{237}{MMP}\tl{925}{225}{Cellular invasion}
\tl{618}{245}{del(1)(q32)}\gm{677}{265}{\sm{SLC45A3}}\gm{725}{265}{ELK4}
\tl{618}{284}{t(17)(q24;q21)}\gm{677}{301}{DDX5}\gm{725}{301}{ETV4}\tf{723}{319}
\node[pil,minimum width=67pt,minimum height=18pt] at (912,277) {Prostate cancer};

\draw[kl] (1220,20)--(1245,27);
\draw[ka] (1285,26)--(1305,24); \draw[ka] (1319,26)--(1338,26); \draw[kd] (1380,26)--(1415,26);
\gm{1152}{25}{EWSR1}\gm{1199}{25}{DDIT3}\tf{1199}{41}\gn{1265}{11}{\sm{NFKBIZ}}\gn{1265}{27}{NFκB}\tc{1267}{43}{(TF)}
\dna{1313}{24}{1313}{15}\gn{1358}{26}{IL8}\tl{1420}{28}{Proliferation}
\hd{1064}{54}{Alveolar rhabdomyosarcoma}\tl{1095}{67}{t(2;13)(q35;q14)}
\draw[ka] (1220,85)--(1276,85); \draw[ka] (1291,85)--(1325,85); \draw[kd] (1370,85)--(1415,85);
\gm{1152}{85}{PAX3}\gm{1199}{85}{\sm{FOXO1A}}\tf{1152}{100}\tf{1199}{100}\dna{1284}{85}{1286}{74}\gn{1347}{85}{FLT1}\tl{1420}{85}{Angiogenesis?}
\tl{1095}{114}{t(1;13)(p36;q14)}\gm{1152}{130}{PAX7}\gm{1199}{130}{\sm{FOXO1A}}\tf{1199}{147}
\hd{1064}{147}{Synovial sarcoma}\tl{1095}{162}{t(X;18)(p11;q11)}
\draw[kt] (1220,181)--(1272,181); \draw[ka] (1291,181)--(1325,181); \draw[kd] (1370,179)--(1413,179);
\gm{1152}{181}{SYT}\gm{1199}{181}{SSX}\dna{1284}{181}{1284}{169}\gn{1347}{181}{COMP}\tl{1416}{179}{Tumor cell growth}
\hd{1064}{202}{Alveolar soft-part sarcoma}\tl{1095}{217}{t(X;17)(p11.2;q25)}
\draw[kt] (1220,236)--(1272,236); \draw[ka] (1291,236)--(1325,236); \draw[kd] (1370,233)--(1413,233);
\gm{1152}{236}{ASPL}\gm{1199}{236}{TFE3}\tf{1199}{253}\dna{1284}{236}{1284}{227}\gn{1347}{236}{c-Met}
\tl{1418}{225}{Angiogenesis,}\tl{1418}{236}{proliferation,}\tl{1418}{247}{invasion, metastasis}
\hd{1034}{267}{<The majority of human cancers>}\tl{1132}{284}{Mutation}
\draw[ka] (1172,300)--(1276,300); \draw[ka] (1291,300)--(1325,300);\slh{1222}{300}\slh{1305}{300}
\gm{1152}{301}{p53}\tf{1153}{320}\dna{1284}{300}{1284}{290}
\gn{1347}{280}{p21}\gn{1392}{280}{\sm{GADD45}}\gn{1347}{302}{Bax}\gn{1392}{302}{Bak}\gn{1347}{323}{p48}\gn{1392}{323}{POLK}
\tl{1424}{290}{Uncontrolled proliferation}\tl{1424}{302}{Increased survival}\tl{1424}{315}{Genomic instability}
\node[pil,minimum width=93pt,minimum height=18pt] at (1249,329) {p53 signaling pathway};
\end{scope}

% I
\pletter{20}{2961}{I}
\draw[black!70,line width=0.9pt] (36.6pt,-2957.7pt) rectangle (1242.4pt,-3732.9pt);
\begin{scope}[x=0.7949pt,y=-0.6983pt,shift={(0pt,-2640pt)}]
\tikzset{
  gb/.append style={minimum width=38pt,minimum height=15pt,font=\kef\fontsize{10}{11}\selectfont},
  tt/.append style={font=\kef\fontsize{10.5}{12}\selectfont},
  pil/.append style={font=\kef\fontsize{10.5}{11}\selectfont},
}
\renewcommand{\sm}[1]{{\fontsize{7.5}{8}\selectfont #1}}
\draw[black,line width=1pt] (87,510) rectangle (322,540);
\node[tt,font=\kef\fontsize{13}{14}\selectfont] at (200,526) {ACUTE MYELOID LEUKEMIA};
\draw[black!55,line width=2.4pt] (321,560)--(321,1520) (349,560)--(349,1525);
\draw[black!28,line width=4.5pt,dash pattern=on 9pt off 1.5pt] (990,555)--(990,1505);
\tc{195}{583}{Hematopoietic progenitors}\tl{384}{564}{Hematopoietic progenitor cell}
\draw[kd] (228,598)--(228,1215);
\node[pil,minimum width=94pt,minimum height=29pt] at (157,800) {Hematopoietic\\[-1pt]cell lineage};
\tc{198}{1241}{Acute myeloblastic leukemia}\tc{198}{1254}{with minimal differentiation (M0)}
\tc{198}{1280}{Acute myeloblastic leukemia}\tc{198}{1293}{without maturation (M1)}
\tc{198}{1317}{Acute myeloblastic leukemia}\tc{198}{1330}{with maturation (M2)}
\tc{198}{1356}{Acute promyelocytic leukemia (M3)}\tc{198}{1381}{Acute myelomonocytic leukemia (M4)}
\tc{198}{1410}{Acute myelomonocytic leukemia}\tc{198}{1424}{with abnormal eosinophils (M4Eo)}
\tc{198}{1455}{Acute monocytic leukemia (M5)}\tc{198}{1478}{Erythroleukemia (M6)}\tc{198}{1500}{Acute megakaryocytic leukemia (M7)}
\tl{62}{1540}{05221 9/19/19}\tl{62}{1553}{(c) Kanehisa Laboratories}

\draw[ka] (360,771)--(397,771); \draw[ka] (450,771)--(470,771); \draw[ka] (520,771)--(542,771);
\draw[ka] (592,771)--(640,771); \draw[ka] (692,771)--(740,771); \draw[ka] (788,771)--(845,771);
\draw[kd] (895,771)--(1070,771); \draw[ka] (1090,771)--(1140,771);
\draw[ka] (370,760)--(600,676); \draw[ka] (597,755)--(625,690);
\draw[kl] (645,665)--(655,650); \draw[ka] (662,645)--(690,645);
\draw[ka] (740,645)--(795,592); \draw[kt] (742,647)--(798,647); \draw[ka] (742,655)--(765,700);
\draw[kd] (850,594)--(903,594); \draw[ka] (955,594)--(1068,594); \draw[ka] (1090,594)--(1138,594);
\draw[kd] (848,646)--(888,646); \draw[ka] (815,693)--(838,685); \draw[ka] (815,705)--(840,720); \draw[kd] (893,700)--(922,700);
\draw[ka] (360,785)--(528,851); \draw[ka] (580,853)--(1072,853); \draw[ka] (1092,853)--(1128,853); \draw[kd] (1183,853)--(1232,853);
\draw[kl,dash pattern=on 5pt off 2pt,rounded corners=5pt] (360,790)--(597,985)--(950,985)--(1100,1018);
\draw[kl,dash pattern=on 5pt off 2pt] (950,985)--(1100,1110);
\draw[black!75,line width=.8pt] (1105,1008)--(1105,1032) (1105,1102)--(1105,1122);

\bu{335}{759}{c-KIT}\gm{335}{791}{FLT3}
\gn{424}{771}{Grb2}\gn{495}{771}{Sos}\gn{567}{771}{Ras}\gm{569}{743}{N-Ras}\gm{569}{801}{K-Ras}\gn{666}{771}{Raf}\gn{763}{771}{MEK}\gn{870}{771}{ERK1/2}
\gn{626}{674}{PI3K}\gn{716}{647}{\sm{PKB/Akt}}\gn{825}{594}{IKK}\gn{929}{593}{NFκB}\gn{823}{647}{Bad}\gn{791}{700}{mTOR}\gn{866}{684}{4E-BP1}\gn{867}{719}{p70S6K}\gn{555}{853}{STAT}\gn{1157}{839}{Pim-1}\gn{1157}{867}{Pim-2}
\tc{655}{631}{PIP3}\node[circle,draw=black!80,fill=white,line width=.6pt,minimum size=5.5pt,inner sep=0pt] at (656,644) {};
\tc{779}{595}{+p}\tc{783}{659}{+p}\tc{746}{695}{+p}\tc{721}{760}{+p}\tc{826}{760}{+p}
\dna{1082}{771}{1085}{790}\dna{1080}{594}{1079}{615}\dna{1084}{853}{1085}{871}
\tl{1147}{774}{Proliferative genes}\tl{1145}{595}{Anti-apoptotic genes}\tl{900}{648}{Cell survival}
\tc{951}{693}{Protein}\tc{951}{706}{synthesis}\tl{1240}{853}{Anti-apoptosis}
\node[pil,minimum width=92pt,minimum height=29pt] at (678,595) {PI3K-Akt\\[-1pt]signaling pathway};
\node[pil,minimum width=92pt,minimum height=29pt] at (777,811) {MAPK signaling\\[-1pt]pathway};
\node[pil,minimum width=92pt,minimum height=29pt] at (721,884) {Jak-STAT signaling\\[-1pt]pathway};
\node[pil,minimum width=92pt,minimum height=29pt] at (1098,650) {Apoptosis};
\node[pil,minimum width=92pt,minimum height=29pt] at (1098,707) {mTOR signaling\\[-1pt]pathway};
\node[pil,minimum width=92pt,minimum height=29pt] at (1361,1369) {Cell cycle};

\draw[ka] (1155,930)--(1190,930); \draw[ka] (1210,929)--(1240,929);\slh{1175}{930}\slh{1222}{929}
\draw[ka] (1155,984)--(1190,984); \draw[ka] (1210,983)--(1240,983);\slh{1175}{984}\slh{1222}{983}
\draw[ka] (1155,1020)--(1188,1020); \draw[ka] (1208,1020)--(1240,1020);\slh{1172}{1020}\slh{1220}{1020}
\draw[ka] (1155,1062)--(1188,1062); \draw[ka] (1208,1061)--(1240,1061);\slh{1172}{1062}\slh{1220}{1061}
\draw[ka] (1155,1112)--(1187,1112); \draw[ka] (1207,1112)--(1240,1112);\slh{1220}{1112}
\draw[ka] (1208,1163)--(1240,1163);\slh{1220}{1163} \draw[ka] (1208,1205)--(1240,1205); \draw[ka] (1208,1243)--(1240,1243); \draw[ka] (1208,1280)--(1240,1280);
\draw[kl] (1058,1112)--(1100,1020) (1058,1112)--(1100,1112);
\draw[ka] (1058,1203)--(1185,1165); \draw[ka] (1058,1203)--(1187,1205);
\draw[ka] (1058,1256)--(1190,1210); \draw[ka] (1058,1256)--(1188,1243); \draw[kt] (1058,1256)--(1188,1280);
\draw[ka] (1058,1112)--(1135,1303); \draw[ka] (1058,1203)--(1135,1303); \draw[ka] (1058,1256)--(1130,1303);
\draw[ka,rounded corners=7pt] (1145,1308)--(1185,1308)--(1185,1352)--(855,1352)--(855,1392);
\draw[ka] (884,1405)--(1188,1405); \draw[ka] (1208,1405)--(1240,1405); \draw[kd] (1295,1405)--(1385,1405);
\draw[kl,rounded corners=4pt] (930,1435)--(930,1405);
\draw[kl,dash pattern=on 5pt off 2pt,rounded corners=3pt] (1352,900)--(1368,903)--(1368,1175)--(1352,1180);
\draw[ka] (1368,1038)--(1398,1038);
\draw[kl,dash pattern=on 5pt off 2pt] (1300,1230)--(1312,1235)--(1312,1290)--(1300,1295);
\draw[kd] (1293,1205)--(1388,1205); \draw[kd] (1315,1262)--(1385,1262);

\tc{1113}{912}{(M0)}\gm{1131}{930}{AML1}\dna{1201}{929}{1198}{915}\gn{1268}{918}{CSF1R}\bu{1324}{918}{MPO}\gn{1268}{944}{GM-CSF}\gn{1324}{944}{IL3}
\tc{1128}{963}{(M1, 2, 4)}\gm{1131}{984}{C/EBPα}\dna{1201}{983}{1201}{969}\tl{1243}{975}{C/EBPα}\tl{1243}{990}{target genes}
\gn{1131}{1020}{C/EBPα}\dna{1198}{1020}{1198}{1008}\gn{1268}{1020}{Per2}
\tc{1135}{1043}{(M0, 4, 5, 6)}\gm{1131}{1062}{PU.1}\dna{1198}{1061}{1196}{1047}\gn{1268}{1062}{CSF1R}
\tc{1015}{1087}{(M2)}\bu{1034}{1112}{\sm{AML1-ETO}}\gn{1131}{1112}{PU.1}\dna{1197}{1112}{1196}{1100}\gn{1268}{1102}{CD14}\gn{1321}{1102}{CD11b}\gn{1268}{1127}{CD64}
\tc{1432}{1035}{Block of}\tc{1432}{1048}{differentiation}
\dna{1199}{1163}{1198}{1147}\gn{1268}{1163}{C/EBPε}\gn{1322}{1163}{\sm{Bfl-1/A1}}
\tc{1015}{1183}{(M3)}\gm{1034}{1203}{\sm{PML-RARα}}\dna{1198}{1205}{1198}{1192}\bu{1268}{1206}{\sm{CyclinA1}}\tl{1396}{1207}{Proliferation}
\tc{1015}{1238}{(M3)}\bu{1034}{1256}{\sm{PLZF-RARα}}\dna{1198}{1243}{1198}{1231}\gn{1268}{1245}{c-Myc}\dna{1198}{1280}{1198}{1268}\gn{1268}{1282}{DUSP6}
\tl{1393}{1255}{Block of}\tl{1393}{1269}{differentiation,}\tl{1393}{1282}{proliferation}
\dna{1138}{1308}{1141}{1326}
\bu{859}{1407}{\sm{Plakoglobin}}\dna{1198}{1406}{1196}{1422}\gn{1268}{1379}{\sm{CyclinD1}}\gn{1268}{1405}{c-Myc}\gn{1268}{1431}{PPARγ}\tl{1393}{1407}{Proliferation}\gn{930}{1448}{TCF}
\draw[black,line width=1pt,fill=black!15] (511,1085) rectangle (812,1232);
\tl{528}{1112}{Genetic alterations}\tl{547}{1149}{Oncogenes:}\tl{656}{1149}{c-KIT, FLT3, N- or K-Ras,}\tl{656}{1165}{AML1-ETO, PML-RARα,}\tl{656}{1181}{PLZF-RARα}
\tl{545}{1201}{Tumor suppressors:}\tl{660}{1201}{AML1, C/EBPα, PU.1}
\end{scope}
\end{tikzpicture}
\end{document}
